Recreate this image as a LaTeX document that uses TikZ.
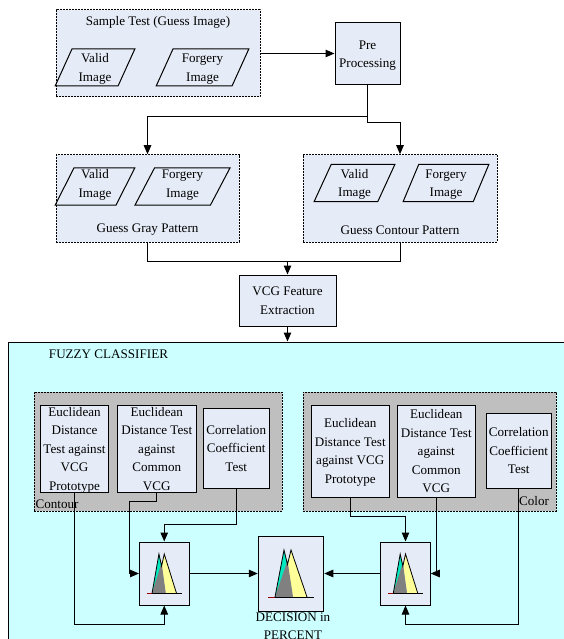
\documentclass[tikz,border=0pt]{standalone}
\usepackage{fontspec}
\setmainfont{Liberation Serif}
\usetikzlibrary{arrows.meta}
\usetikzlibrary{shapes.geometric}
\newcommand{\diagfont}{\fontsize{13.1}{18.5}\selectfont}
\definecolor{paleblue}{HTML}{E6ECF7}
\definecolor{fuzzycyan}{HTML}{CCFFFF}
\definecolor{groupgray}{HTML}{BFBFBF}
\definecolor{iconteal}{HTML}{00E8C0}
\definecolor{iconyellow}{HTML}{FFFF99}
\definecolor{icongray}{HTML}{808080}
\tikzset{
  fuzzyicon/.pic={
    \fill[iconteal] (-16,23.5) -- (-7,-23.5) -- (-3,-8) -- (-9,23.5) -- cycle;
    \fill[iconyellow] (-3,-8) -- (0,-23.5) -- (16,23.5) -- (2,23.5) -- cycle;
    \fill[icongray] (-16,23.5) -- (-3.5,-13) -- (2,23.5) -- cycle;
    \draw[-,thick] (-16,23.5) -- (-7,-23.5) -- (-3.5,-9) -- (0,-23.5) -- (16,23.5);
    \draw[-,red!60!black] (-23,23.5) -- (-16,23.5);
    \draw[-,thick] (-16,23.5) -- (23,23.5);
  }
}
\begin{document}
\begin{tikzpicture}[->,>={Triangle[length=9pt,width=7.5pt]},x=1pt,y=-1pt,line width=1pt,
  every node/.style={font=\diagfont,align=center,inner sep=0pt},
  setbox/.style={rectangle,draw,dash pattern=on 2pt off 1pt,fill=paleblue},
  groupbox/.style={rectangle,draw,dash pattern=on 2pt off 1pt,fill=groupgray},
  procbox/.style={rectangle,draw,fill=paleblue,text depth=0pt},
  imagebox/.style={trapezium,draw,trapezium left angle=66.6,trapezium right angle=113.4,
    trapezium stretches=true,minimum height=37pt,text depth=0pt}]

  \useasboundingbox (0,0) rectangle (563,639);

  % top row
  \node[setbox,minimum width=204pt,minimum height=87pt] (sample) at (158,53.5) {};
  \node (sampletitle) at (158,22.5) {Sample Test (Guess Image)};
  \node[imagebox,minimum width=80pt] (samplevalid) at (95,67.5) {Valid\\Image};
  \node[imagebox,minimum width=93pt] (sampleforgery) [right of=samplevalid,node distance=107.5pt] {Forgery\\Image};
  \node[procbox,minimum width=65pt,minimum height=62pt] (pre) at (367.5,54) {Pre\\Processing};

  % pattern sets
  \node[setbox,minimum width=183pt,minimum height=87.5pt] (grayset) at (147.5,198.5) {};
  \node (graytitle) at (147.5,230) {Guess Gray Pattern};
  \node[imagebox,minimum width=80pt,text depth=6pt] (grayvalid) at (95,186.5) {Valid\\Image};
  \node[imagebox,minimum width=95pt,text depth=6pt] (grayforgery) [right of=grayvalid,node distance=87.5pt] {Forgery\\Image};
  \node[setbox,minimum width=194pt,minimum height=87.5pt] (contourset) at (400,198.5) {};
  \node (contourtitle) at (400,230) {Guess Contour Pattern};
  \node[imagebox,minimum width=81pt] (contourvalid) at (354.5,183) {Valid\\Image};
  \node[imagebox,minimum width=86pt] (contourforgery) [right of=contourvalid,node distance=91.5pt] {Forgery\\Image};

  \node[procbox,minimum width=97pt,minimum height=51pt] (vcg) at (287.5,300.5) {VCG Feature\\Extraction};
  \coordinate (vcgjoin) at (287.5,261);

  % classifier
  \node[rectangle,draw,fill=fuzzycyan,minimum width=570pt,minimum height=320pt] (fuzzy) at (293,502) {};
  \node (fuzzytitle) at (108.5,354) {FUZZY CLASSIFIER};
  \node[groupbox,minimum width=248pt,minimum height=119pt] (contourgroup) at (158,451.5) {};
  \node[groupbox,minimum width=253pt,minimum height=119pt] (colorgroup) at (429.5,451.5) {};
  \node (contourlabel) at (57,504) {Contour};
  \node (colorlabel) at (534,501) {Color};

  \node[procbox,minimum width=68pt,minimum height=87pt] (euclida) at (74.5,448.5) {Euclidean\\Distance\\Test against\\VCG\\Prototype};
  \node[procbox,minimum width=78.5pt,minimum height=87pt] (euclidb) at (156.75,448.5) {Euclidean\\Distance Test\\against\\Common\\VCG};
  \node[procbox,minimum width=65.5pt,minimum height=80pt] (corra) at (236.25,448) {Correlation\\Coefficient\\Test};
  \node[procbox,minimum width=78.5pt,minimum height=92pt] (colora) at (350.25,451) {Euclidean\\Distance Test\\against VCG\\Prototype};
  \node[procbox,minimum width=77.5pt,minimum height=92pt] (colorb) at (436.25,451) {Euclidean\\Distance Test\\against\\Common\\VCG};
  \node[procbox,minimum width=65.5pt,minimum height=74.5pt] (colorc) at (518.75,450.75) {Correlation\\Coefficient\\Test};

  \node[procbox,minimum width=49.5pt,minimum height=63pt] (fuzzyleft) at (164.25,573.5) {};
  \node[procbox,minimum width=65.5pt,minimum height=75pt] (decision) at (291,573.5) {};
  \node[procbox,minimum width=49.5pt,minimum height=63pt] (fuzzyright) at (405.5,573.5) {};
  \node (decisionlabel) at (293,626) {DECISION in\\PERCENT};

  \pic[xscale=0.76,yscale=0.83] at (fuzzyleft) {fuzzyicon};
  \pic at (decision) {fuzzyicon};
  \pic[xscale=0.76,yscale=0.83] at (fuzzyright) {fuzzyicon};

  \coordinate (bendb) at (129,501);
  \coordinate (bendc) at (164.25,524);
  \coordinate (loopa) at (164.25,624);
  \coordinate (bendd) at (405.5,516);
  \coordinate (loope) at (405.5,624);

  % connectors
  \draw (sample.east) -- (sample.east -| pre.west);
  \draw (pre.south) -- ++(0,31) -| (grayset.north);
  \draw (pre.south) -- ++(0,37) -| (contourset.north);
  \draw[-] (grayset.south) |- (vcgjoin);
  \draw[-] (contourset.south) |- (vcgjoin);
  \draw (vcgjoin) -- (vcg.north);
  \draw (vcg.south) -- (fuzzy.north -| vcg.south);

  \draw (euclida.south) |- (loopa) -- (fuzzyleft.south);
  \draw (euclidb.south) |- (bendb) |- (fuzzyleft.west);
  \draw (corra.south) |- (bendc) -- (fuzzyleft.north);
  \draw (colora.south) |- (bendd) -- (fuzzyright.north);
  \draw (colorb.south) |- (fuzzyright.east);
  \draw (colorc.south) |- (loope) -- (fuzzyright.south);
  \draw (fuzzyleft) -- (decision);
  \draw (fuzzyright) -- (decision);
\end{tikzpicture}
\end{document}
